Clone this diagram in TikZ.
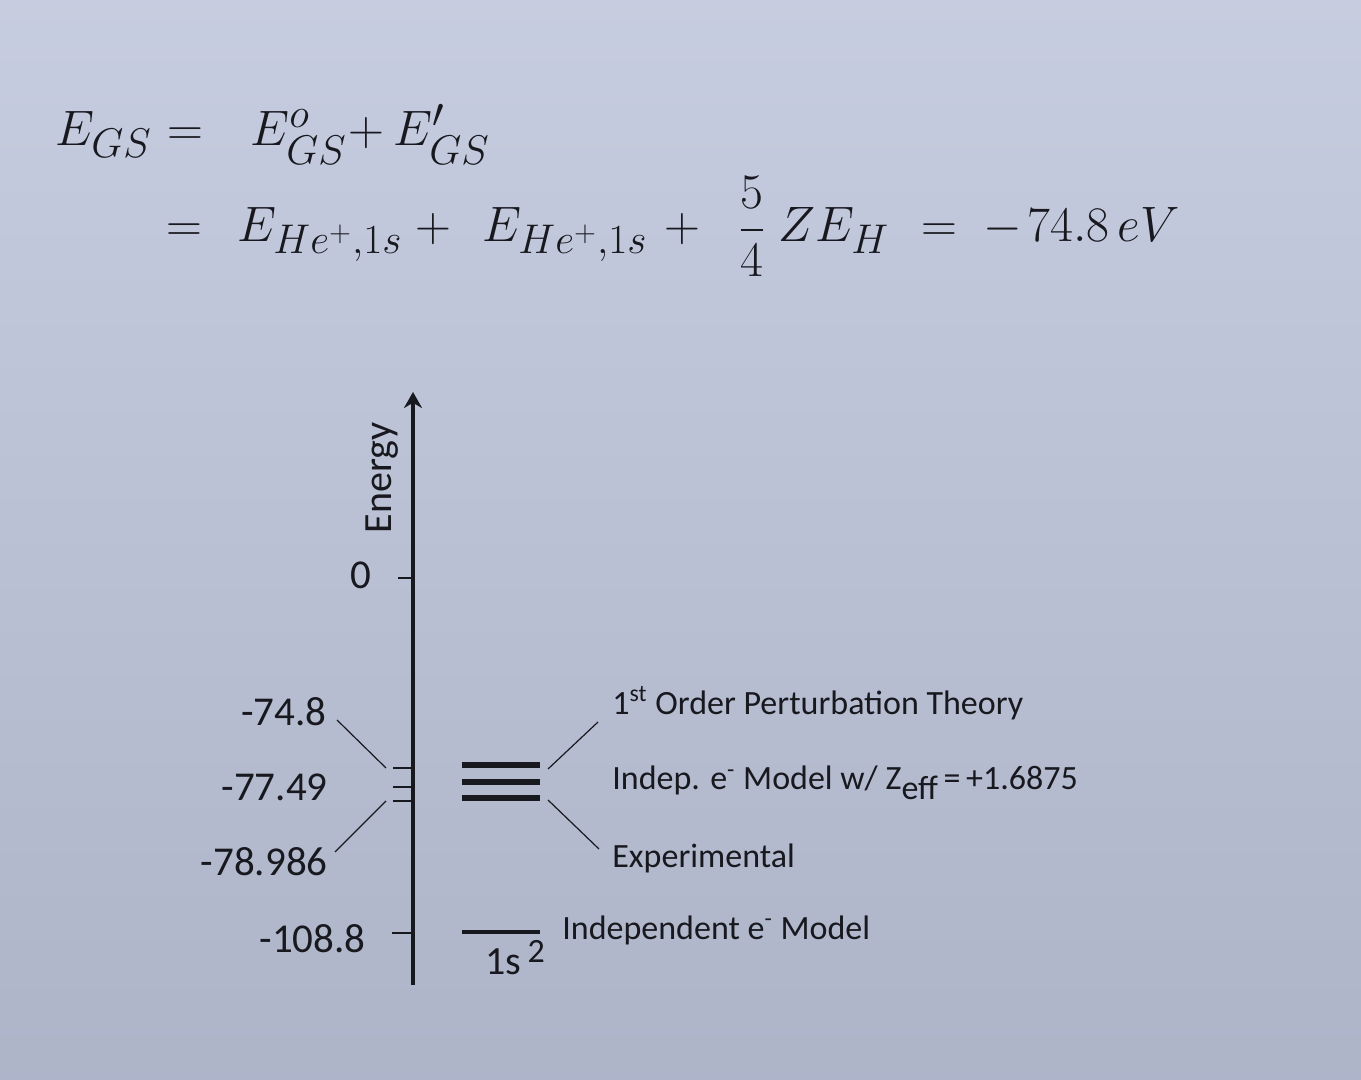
\documentclass[tikz,border=0pt]{standalone}
\usepackage{amsmath}
\usepackage[no-math]{fontspec}
\setmainfont{Carlito}
\usetikzlibrary{positioning,arrows.meta}
\definecolor{paper}{HTML}{BDC4DA}
\definecolor{ink}{HTML}{18181F}
\tikzset{eq/.style={font=\fontsize{29}{35}\selectfont,text=ink,inner sep=0pt,anchor=base west}}
\tikzset{num/.style={font=\fontsize{20.5}{24}\selectfont,text=ink,inner sep=0pt,anchor=east}}
\tikzset{lbl/.style={font=\fontsize{17}{20}\selectfont,text=ink,inner sep=0pt,anchor=west}}
\tikzset{tick/.style={draw=ink,line width=0.8pt}}
\tikzset{bar/.style={draw=ink,line width=3pt}}
\tikzset{lead/.style={draw=ink,line width=0.6pt}}

\begin{document}
\begin{tikzpicture}[x=0.5pt,y=-0.5pt,>=Stealth]
    \fill[top color=paper!85!white,bottom color=paper!92!black] (0,0) rectangle (1361,1080);
    \useasboundingbox (0,0) rectangle (1361,1080);

    % equation, first line
    \node[eq] (gs) at (55,146) {$E_{GS}$};
    \node[eq] (eqa) at (167,146) {$=$};
    \node[eq] (gs0) at (250,146) {$E^{o}_{GS}$};
    \node[eq] (pla) at (348,146) {$+$};
    \node[eq] (gs1) at (393,146) {$E'_{GS}$};

    % equation, second line
    \node[eq] (eqb) at (166,242) {$=$};
    \node[eq] (hea) at (237,242) {$E_{He^{+},1s}$};
    \node[eq] (plb) at (415,242) {$+$};
    \node[eq] (heb) at (482,242) {$E_{He^{+},1s}$};
    \node[eq] (plc) at (664,242) {$+$};
    \node[eq,anchor=base] (frac) at (752,242) {$\dfrac{5}{4}$};
    \node[eq] (zeh) at (778,242) {$ZE_{H}$};
    \node[eq] (eqc) at (921,242) {$=$};
    \node[eq] (val) at (983,242) {$-\mkern2mu74.8\mkern3mu eV$};

    % energy axis
    \coordinate (ax0) at (413,985);
    \coordinate (ax1) at (413,392);
    \draw[ink,line width=2pt,-{Stealth[length=8pt,width=9pt]}] (ax0) -- (ax1);
    \node[rotate=90,font=\fontsize{20}{24}\selectfont,text=ink,inner sep=0pt] (en) at (382,478) {Energy};

    \foreach \y/\n/\x in {578/z/398,768/a/393,787/b/393,801/c/393,933/d/392}{
        \coordinate (t\n) at (\x,\y);
        \coordinate (s\n) at (413,\y);
        \draw[tick] (t\n) -- (s\n);
    }

    \node[num] (l0) at (372,575) {0};
    \node[num] (l748) at (327,712) {-74.8};
    \node[num] (l7749) at (328,787) {-77.49};
    \node[num] (l78986) at (328,862) {-78.986};
    \node[num] (l1088) at (366,939) {-108.8};

    \coordinate (pa) at (337,720);
    \coordinate (pb) at (386,768);
    \coordinate (pc) at (335,852);
    \coordinate (pd) at (386,801);
    \draw[lead] (pa) -- (pb);
    \draw[lead] (pc) -- (pd);

    % levels
    \foreach \y/\n in {765/a,782/b,798/c}{
        \coordinate (b\n l) at (462,\y);
        \coordinate (b\n r) at (540,\y);
        \draw[bar] (b\n l) -- (b\n r);
    }
    \coordinate (bdl) at (462,932);
    \coordinate (bdr) at (540,932);
    \draw[ink,line width=2pt] (bdl) -- (bdr);
    \node[font=\fontsize{20}{24}\selectfont,text=ink,inner sep=0pt] (ss) at (515,958) {1s\,\raisebox{0.3em}{\fontsize{17}{20}\selectfont 2}};

    \node[lbl] (pt) at (612,703) {1\textsuperscript{st} Order Perturbation Theory};
    \node[lbl] (im) at (612,783) {Indep. e\textsuperscript{-} Model w/ Z\raisebox{-0.3em}{eff}\,=\,+1.6875};
    \node[lbl] (ex) at (612,858) {Experimental};
    \node[lbl] (ie) at (562,930) {Independent e\textsuperscript{-} Model};

    \coordinate (qa) at (548,769);
    \coordinate (qb) at (598,722);
    \coordinate (qc) at (548,800);
    \coordinate (qd) at (599,849);
    \draw[lead] (qa) -- (qb);
    \draw[lead] (qc) -- (qd);
\end{tikzpicture}
\end{document}
